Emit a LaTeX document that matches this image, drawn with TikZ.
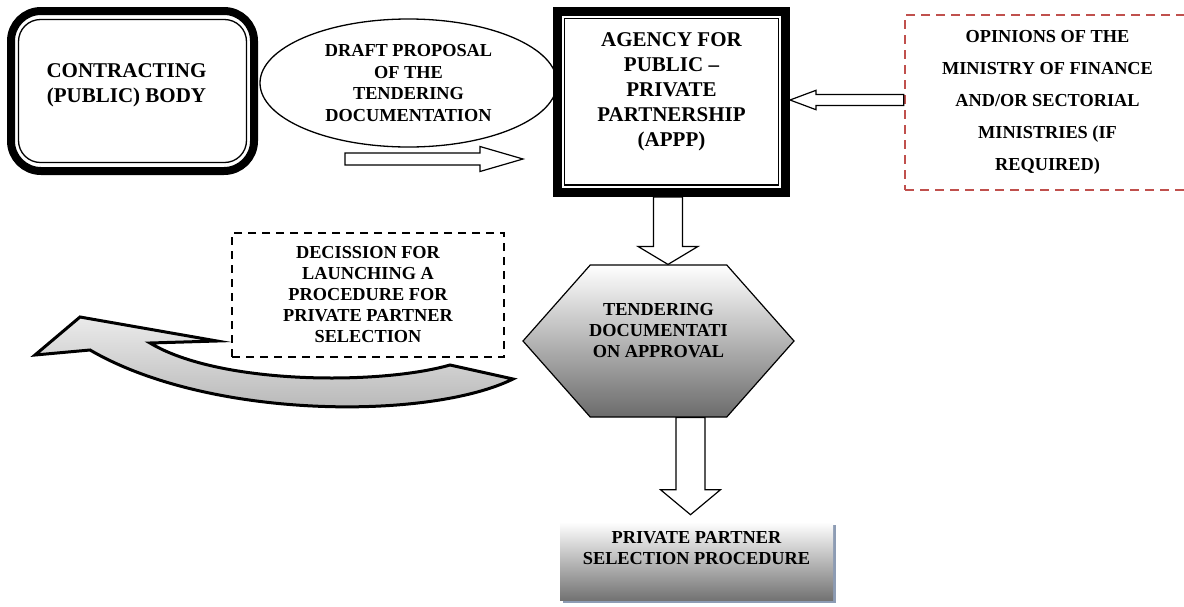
\documentclass[tikz,border=0pt]{standalone}
\usepackage{fontspec}
\setmainfont{Liberation Serif}
\usepackage{tikz}
\usetikzlibrary{shapes,shapes.symbols,shadows,calc,positioning}

\definecolor{dashred}{RGB}{192,80,77}
\definecolor{shadowblue}{RGB}{141,156,180}

% hollow block arrow: shaft half width, head half width, head length
\tikzset{fat/.style n args={3}{draw, fill=white, line width=1.2pt, line join=miter,
		to path={let \p1=($(\tikztotarget)!#3!(\tikztostart)$) in
			($(\tikztostart)!#1!90:(\tikztotarget)$) -- ($(\p1)!#1!90:(\tikztotarget)$)
			-- ($(\p1)!#2!90:(\tikztotarget)$) -- (\tikztotarget)
			-- ($(\p1)!#2!-90:(\tikztotarget)$) -- ($(\p1)!#1!-90:(\tikztotarget)$)
			-- ($(\tikztostart)!#1!-90:(\tikztotarget)$) -- cycle}}}

\begin{document}
\begin{tikzpicture}[x=1pt,y=-1pt,semithick]
			\tikzstyle{bigtext}=[font=\fontsize{21}{25}\selectfont\bfseries,align=center]
			\tikzstyle{smalltext}=[font=\fontsize{18.3}{21}\selectfont\bfseries,align=center]
			
			\useasboundingbox (0,0) rectangle (1184,606);
			
			\draw[line width=3pt, line join=miter, top color=black!8, bottom color=black!30]
			(35,355) -- (80,317) -- (217,341) -- (150,343)
			.. controls (220,385) and (380,385) .. (450,365) -- (513,379)
			.. controls (430,420) and (210,420) .. (90,350) -- cycle;
			
			\node[draw, line width=8pt, rounded corners=30pt, minimum width=243pt, minimum height=160pt,
			label={[bigtext, xshift=-6pt, yshift=6pt]center:{CONTRACTING\\(PUBLIC) BODY}}]    (cb) at (132.5,91)   {};
			
			\node[ellipse, draw, line width=1.3pt, minimum width=297pt, minimum height=128pt, inner sep=0pt,
			smalltext, font=\fontsize{18.3}{21.5}\selectfont\bfseries]    (dp) at (408.5,83)   {DRAFT PROPOSAL\\OF THE\\TENDERING\\DOCUMENTATION};
			
			\node[draw, line width=9pt, minimum width=228pt, minimum height=181pt,
			label={[bigtext, yshift=10pt]center:{AGENCY FOR\\PUBLIC --\\PRIVATE\\PARTNERSHIP\\(APPP)}}]    (ag) at (671.5,102)   {};
			
			\node[draw=dashred, line width=2.4pt, dash pattern=on 9pt off 6pt, minimum width=285pt, minimum height=175pt,
			font=\fontsize{18.3}{32}\selectfont\bfseries, align=center]    (op) at (1047.5,102.5)   {OPINIONS OF THE\\MINISTRY OF FINANCE\\AND/OR SECTORIAL\\MINISTRIES (IF\\REQUIRED)};
			
			\node[draw, line width=2pt, dash pattern=on 8pt off 6pt, minimum width=272pt, minimum height=124pt,
			smalltext]    (dec) at (368,295)   {DECISSION FOR\\LAUNCHING A\\PROCEDURE FOR\\PRIVATE PARTNER\\SELECTION};
			
			\node[signal, signal to=east and west, signal pointer angle=97, draw, line width=1.2pt,
			top color=white, bottom color=black!58, minimum width=271pt, minimum height=152pt, inner sep=0pt,
			label={[smalltext, yshift=10pt]center:{TENDERING\\DOCUMENTATI\\ON APPROVAL}}]    (tda) at (658.5,341)   {};
			
			\node[top color=white, bottom color=black!55, minimum width=273pt, minimum height=78pt,
			general shadow={fill=shadowblue, shadow xshift=3pt, shadow yshift=-3pt},
			label={[smalltext, yshift=13pt]center:{PRIVATE PARTNER\\SELECTION PROCEDURE}}]    (sel) at (696.5,561)   {};
			
			\draw[line width=1.3pt, rounded corners=22pt] ([xshift=11.5pt,yshift=-12.5pt]cb.north west) rectangle ([xshift=-11.5pt,yshift=12.5pt]cb.south east);
			\draw[line width=1.2pt] ([xshift=11.5pt,yshift=-11.5pt]ag.north west) rectangle ([xshift=-11.5pt,yshift=12pt]ag.south east);
			
			\coordinate (d1) at (345,159);
			\coordinate (d2) at (523,159);
			\coordinate (o1) at (op.west |- 0,100);
			\coordinate (o2) at (ag.east |- 0,100);
			\coordinate (a1) at (ag.south -| 668,0);
			\coordinate (a2) at (tda.north -| 668,0);
			\coordinate (t1) at (tda.south -| 690.5,0);
			\coordinate (t2) at ([yshift=7pt]sel.north -| 690.5,0);
			
			\path
			
			(d1) edge[fat={6pt}{12.5pt}{43pt}] (d2)
			
			(o1) edge[fat={5.5pt}{9.7pt}{26pt}] (o2)
			
			(a1) edge[fat={14.5pt}{30pt}{18pt}] (a2)
			
			(t1) edge[fat={14.5pt}{30pt}{25pt}] (t2);
			
\end{tikzpicture}
\end{document}
